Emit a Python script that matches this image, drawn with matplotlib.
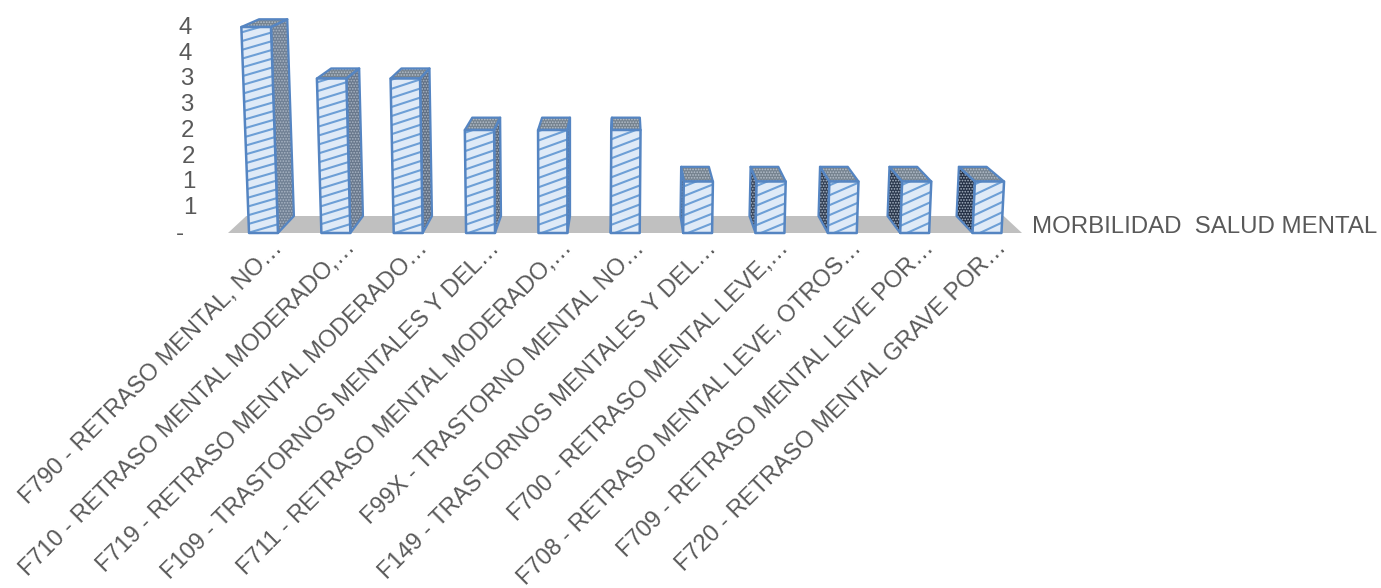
import numpy as np
import matplotlib
matplotlib.use("Agg")
import matplotlib.pyplot as plt

plt.rcParams['font.family'] = ['Liberation Sans', 'DejaVu Sans']
plt.rcParams['hatch.linewidth'] = 0.8

categories = [
    "F790 - RETRASO MENTAL, NO…",
    "F710 - RETRASO MENTAL MODERADO,…",
    "F719 - RETRASO MENTAL MODERADO…",
    "F109 - TRASTORNOS MENTALES Y DEL…",
    "F711 - RETRASO MENTAL MODERADO,…",
    "F99X - TRASTORNO MENTAL NO…",
    "F149 - TRASTORNOS MENTALES Y DEL…",
    "F700 - RETRASO MENTAL LEVE,…",
    "F708 - RETRASO MENTAL LEVE, OTROS…",
    "F709 - RETRASO MENTAL LEVE POR…",
    "F720 - RETRASO MENTAL GRAVE POR…",
]
values = [4, 3, 3, 2, 2, 2, 1, 1, 1, 1, 1]
y_ticks = [0, 0.5, 1, 1.5, 2, 2.5, 3, 3.5, 4]
y_labels = ["-  ", "1", "1", "2", "2", "3", "3", "4", "4"]
series_name = "MORBILIDAD  SALUD MENTAL"

W, H = 1381, 588
PXX, PXY = 72.35, 51.5      # pixels per category / per value unit
X0, Y0 = 263.5, 233.0       # pixel of first category / of value 0
fig = plt.figure(figsize=(W / 100, H / 100), dpi=100, facecolor='white')
ax = fig.add_axes([0, 0, 1, 1])
ax.set_xlim(-X0 / PXX, (W - X0) / PXX)
ax.set_ylim((Y0 - H) / PXY, Y0 / PXY)
ax.axis('off')

HALF = 0.2                  # half bar width, in categories
VX_H = (570 - X0) / PXX     # vanishing x for height
VX_D = (625 - X0) / PXX     # vanishing x for depth
C_H, K_D = 0.006, 0.046
DEPTH_Y, BACK_SCALE = 17 / PXY, 0.955


def project(x, v, depth=0):
    """Simple perspective: depth 0 is the front plane, 1 the back plane."""
    if depth:
        x = x + (VX_D - x) * K_D
    xp = x + (x - VX_H) * v * C_H
    yp = v * BACK_SCALE + DEPTH_Y if depth else v
    return xp, yp


BLUE = '#5585c2'
FRONT = '#dfeaf7'
HATCH = '#6d9fd6'
TEXT = '#595959'
FS = 17.3
FS_CAT = 17.05

# floor
fl = (228 - X0) / PXX
fr = (1022 - X0) / PXX
ax.fill([fl, fr, fr + (VX_D - fr) * K_D, fl + (VX_D - fl) * K_D],
        [0, 0, DEPTH_Y, DEPTH_Y], facecolor='#c0c0c0', edgecolor='none', zorder=1)

n = len(values)
for i, v in enumerate(values):
    xl, xr = i - HALF, i + HALF
    f0l, f0r = project(xl, 0), project(xr, 0)
    ftl, ftr = project(xl, v), project(xr, v)
    b0l, b0r = project(xl, 0, 1), project(xr, 0, 1)
    btl, btr = project(xl, v, 1), project(xr, v, 1)
    # visible side face: right of centre the left side shows
    if i < VX_D:
        side = [f0r, b0r, btr, ftr]
    else:
        side = [f0l, b0l, btl, ftl]
    t = i / (n - 1)
    shade = tuple(np.array([0.44, 0.50, 0.58]) * (1 - t) + np.array([0.14, 0.19, 0.27]) * t)
    sx, sy = zip(*side)
    ax.fill(sx, sy, facecolor=shade, edgecolor='#a9b5c4', hatch='......', linewidth=0, zorder=3)
    ax.fill(sx, sy, fill=False, edgecolor=BLUE, linewidth=1.6, zorder=4, joinstyle='round')
    # top
    tx, ty = zip(*[ftl, ftr, btr, btl])
    ax.fill(tx, ty, facecolor='#76838f', edgecolor='#b5bfcb', hatch='......', linewidth=0, zorder=3)
    ax.fill(tx, ty, fill=False, edgecolor=BLUE, linewidth=1.6, zorder=4, joinstyle='round')
    # front
    qx, qy = zip(*[f0l, f0r, ftr, ftl])
    poly = ax.fill(qx, qy, facecolor=FRONT, edgecolor='none', zorder=5)[0]
    slope_px = 0.29 + 0.18 * t
    step_px = 8.8 + 1.4 * t
    rise = slope_px * (PXX * 2 * HALF)
    for y_px in np.arange(-rise, v * PXY + rise, step_px):
        ln, = ax.plot([xl - 0.1, xr + 0.1],
                      [(y_px - slope_px * PXX * 0.1) / PXY,
                       (y_px + rise + slope_px * PXX * 0.1) / PXY],
                      color=HATCH, lw=1.5, zorder=6)
        ln.set_clip_path(poly)
    ax.fill(qx, qy, fill=False, edgecolor=BLUE, linewidth=1.8, zorder=7, joinstyle='round')

    # category label
    ax.text(i + 0.11, -4 / PXY, categories[i], rotation=45, rotation_mode='anchor',
            ha='right', va='top', fontsize=FS_CAT, color=TEXT, zorder=8)

# value labels
for tv, tl in zip(y_ticks, y_labels):
    bx = (197 - X0) / PXX
    px = bx + (bx - VX_H) * tv * C_H * 0.6
    ax.text(px, tv - 1 / PXY, tl, ha='right', va='center', fontsize=FS, color=TEXT, zorder=8)

# series label
ax.text((1032 - X0) / PXX, (Y0 - 227) / PXY, series_name, ha='left', va='center',
        fontsize=FS, color=TEXT, zorder=8)

fig.savefig('out.png', dpi=100, facecolor='white')
